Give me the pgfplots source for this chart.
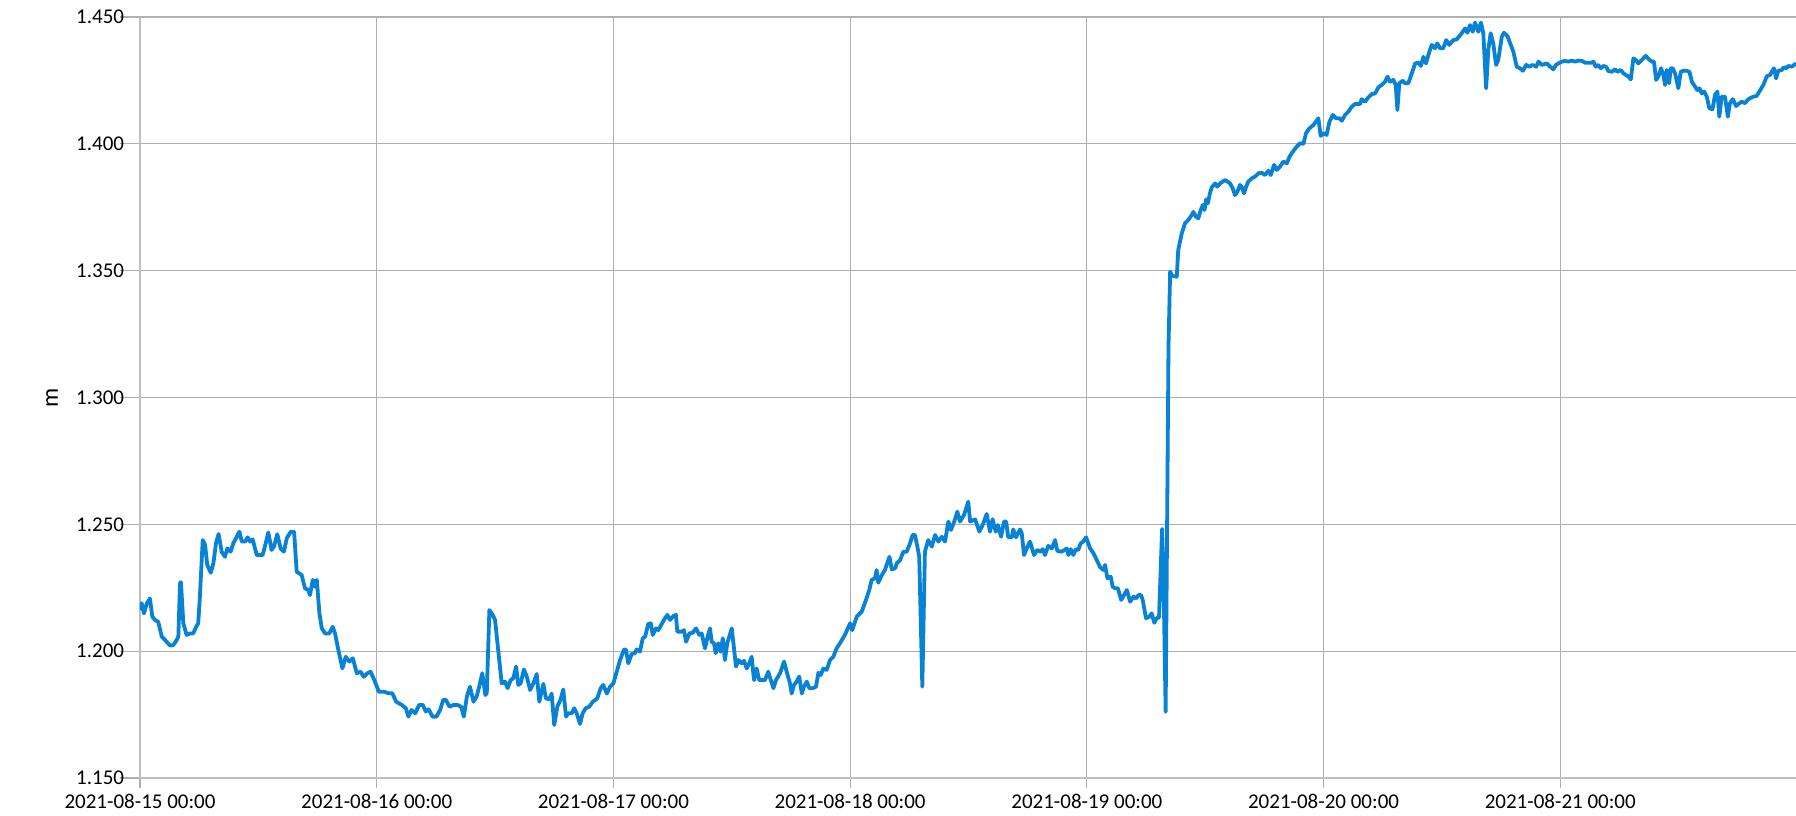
\documentclass[border=0pt]{standalone}
\usepackage{fontspec}
\setmainfont{Carlito}
\usepackage{pgfplots}
\pgfplotsset{compat=1.18}
\definecolor{lineblue}{RGB}{8,130,212}
\definecolor{gridgray}{RGB}{175,175,175}
\begin{document}
\fontsize{10.5}{12.6}\selectfont
\begin{tikzpicture}
\begin{axis}[
  at={(0,0)}, anchor=south west,
  scale only axis, width=828pt, height=380.5pt,
  xmin=0, xmax=6.996, ymin=1.15, ymax=1.45,
  xtick={0,1,2,3,4,5,6},
  xticklabels={2021-08-15 00:00,2021-08-16 00:00,2021-08-17 00:00,2021-08-18 00:00,2021-08-19 00:00,2021-08-20 00:00,2021-08-21 00:00},
  ytick={1.15,1.2,1.25,1.3,1.35,1.4,1.45},
  yticklabel style={/pgf/number format/.cd, fixed, fixed zerofill, precision=3, assume math mode=true},
  tick align=outside,
  xtick style={gridgray, line width=0.6pt, /pgfplots/major tick length=5pt},
  ytick style={gridgray, line width=0.6pt, /pgfplots/major tick length=10pt},
  grid=major,
  major grid style={gridgray, line width=0.6pt},
  axis line style={gridgray!80, line width=0.6pt},
  axis x line*=bottom, axis y line*=left,
  ylabel={m},
  ylabel style={at={([xshift=-44pt]axis description cs:0,0.5)}, anchor=center, font=\fontsize{12}{14}\selectfont},
  clip=true,
]
\addplot[lineblue, line width=1.9pt, line join=round] table {
x y
0.000 1.2162
0.007 1.2189
0.017 1.2149
0.028 1.2186
0.042 1.2208
0.052 1.2136
0.063 1.2123
0.077 1.2116
0.092 1.2057
0.106 1.2044
0.127 1.2022
0.141 1.2024
0.155 1.2044
0.162 1.2057
0.169 1.2268
0.173 1.2272
0.183 1.2110
0.197 1.2064
0.211 1.2070
0.225 1.2070
0.237 1.2096
0.246 1.2110
0.253 1.2215
0.265 1.2438
0.275 1.2419
0.284 1.2340
0.299 1.2309
0.310 1.2346
0.321 1.2425
0.332 1.2462
0.345 1.2392
0.359 1.2372
0.369 1.2405
0.383 1.2392
0.394 1.2425
0.409 1.2451
0.420 1.2471
0.430 1.2432
0.444 1.2432
0.455 1.2449
0.465 1.2432
0.476 1.2441
0.493 1.2379
0.507 1.2379
0.518 1.2379
0.531 1.2425
0.542 1.2468
0.556 1.2399
0.566 1.2412
0.580 1.2461
0.594 1.2405
0.608 1.2392
0.620 1.2445
0.637 1.2471
0.651 1.2471
0.662 1.2313
0.683 1.2300
0.697 1.2248
0.711 1.2241
0.718 1.2221
0.730 1.2281
0.739 1.2254
0.747 1.2281
0.758 1.2149
0.768 1.2090
0.782 1.2070
0.800 1.2070
0.814 1.2096
0.824 1.2070
0.838 1.2005
0.855 1.1932
0.869 1.1978
0.884 1.1959
0.899 1.1972
0.916 1.1913
0.932 1.1919
0.945 1.1899
0.961 1.1913
0.974 1.1919
0.990 1.1886
1.009 1.1840
1.033 1.1840
1.049 1.1834
1.066 1.1834
1.082 1.1801
1.106 1.1788
1.123 1.1775
1.134 1.1742
1.147 1.1768
1.163 1.1755
1.179 1.1788
1.195 1.1788
1.207 1.1762
1.219 1.1771
1.236 1.1742
1.252 1.1742
1.268 1.1768
1.281 1.1808
1.292 1.1808
1.308 1.1781
1.324 1.1788
1.341 1.1788
1.357 1.1781
1.368 1.1742
1.381 1.1821
1.394 1.1860
1.409 1.1801
1.422 1.1821
1.433 1.1860
1.446 1.1913
1.459 1.1827
1.465 1.1834
1.476 1.2162
1.490 1.2143
1.500 1.2123
1.528 1.1873
1.542 1.1880
1.553 1.1854
1.566 1.1886
1.577 1.1893
1.589 1.1939
1.598 1.1867
1.608 1.1873
1.622 1.1928
1.634 1.1900
1.648 1.1847
1.662 1.1873
1.676 1.1910
1.687 1.1801
1.704 1.1871
1.715 1.1814
1.729 1.1810
1.739 1.1833
1.750 1.1709
1.763 1.1781
1.777 1.1810
1.788 1.1849
1.800 1.1742
1.809 1.1755
1.824 1.1755
1.834 1.1775
1.845 1.1755
1.859 1.1713
1.870 1.1755
1.883 1.1775
1.898 1.1781
1.913 1.1801
1.924 1.1808
1.932 1.1814
1.946 1.1854
1.957 1.1867
1.972 1.1833
1.986 1.1860
2.000 1.1873
2.014 1.1919
2.028 1.1965
2.045 1.2007
2.053 1.2005
2.063 1.1952
2.077 1.1989
2.091 1.1992
2.098 1.2007
2.112 1.1998
2.124 1.2051
2.134 1.2057
2.147 1.2107
2.158 1.2110
2.166 1.2064
2.180 1.2090
2.190 1.2083
2.204 1.2107
2.218 1.2130
2.228 1.2143
2.239 1.2123
2.253 1.2138
2.264 1.2143
2.270 1.2077
2.289 1.2077
2.298 1.2083
2.307 1.2037
2.321 1.2070
2.335 1.2073
2.349 1.2090
2.363 1.2064
2.373 1.2070
2.387 1.2011
2.398 1.2057
2.408 1.2090
2.415 1.2037
2.425 1.2031
2.432 1.1992
2.443 1.2031
2.453 1.1998
2.462 1.2051
2.471 1.1965
2.481 1.2031
2.500 1.2090
2.518 1.1939
2.528 1.1965
2.542 1.1952
2.552 1.1962
2.563 1.1932
2.574 1.1952
2.584 1.1978
2.594 1.1886
2.605 1.1932
2.616 1.1886
2.627 1.1886
2.640 1.1886
2.654 1.1919
2.665 1.1886
2.676 1.1854
2.687 1.1886
2.704 1.1913
2.721 1.1959
2.732 1.1919
2.746 1.1873
2.753 1.1833
2.763 1.1867
2.774 1.1880
2.785 1.1900
2.796 1.1833
2.805 1.1860
2.817 1.1880
2.828 1.1854
2.842 1.1854
2.856 1.1860
2.866 1.1915
2.876 1.1906
2.887 1.1932
2.901 1.1926
2.915 1.1965
2.929 1.1978
2.943 1.2011
2.957 1.2031
2.978 1.2064
3.000 1.2110
3.009 1.2083
3.028 1.2136
3.049 1.2156
3.067 1.2202
3.081 1.2241
3.091 1.2281
3.105 1.2287
3.112 1.2320
3.119 1.2270
3.134 1.2300
3.147 1.2320
3.166 1.2372
3.176 1.2322
3.190 1.2327
3.197 1.2346
3.211 1.2359
3.225 1.2392
3.239 1.2392
3.253 1.2425
3.264 1.2458
3.274 1.2458
3.284 1.2412
3.292 1.2372
3.305 1.1860
3.316 1.2392
3.330 1.2438
3.345 1.2412
3.359 1.2458
3.373 1.2432
3.387 1.2451
3.401 1.2432
3.415 1.2511
3.426 1.2478
3.440 1.2511
3.453 1.2550
3.464 1.2511
3.481 1.2537
3.499 1.2589
3.507 1.2511
3.528 1.2520
3.546 1.2471
3.560 1.2497
3.577 1.2541
3.591 1.2471
3.602 1.2520
3.615 1.2471
3.624 1.2497
3.638 1.2451
3.650 1.2511
3.659 1.2511
3.668 1.2449
3.683 1.2449
3.689 1.2480
3.701 1.2449
3.718 1.2480
3.725 1.2465
3.735 1.2379
3.746 1.2405
3.760 1.2432
3.777 1.2379
3.791 1.2399
3.805 1.2392
3.814 1.2402
3.823 1.2379
3.837 1.2415
3.852 1.2405
3.866 1.2438
3.875 1.2396
3.890 1.2392
3.901 1.2396
3.915 1.2405
3.922 1.2379
3.932 1.2402
3.943 1.2379
3.953 1.2402
3.964 1.2399
3.974 1.2425
3.985 1.2432
3.997 1.2449
4.014 1.2405
4.028 1.2386
4.042 1.2359
4.056 1.2331
4.070 1.2320
4.077 1.2340
4.087 1.2287
4.101 1.2294
4.109 1.2254
4.119 1.2248
4.131 1.2248
4.145 1.2202
4.157 1.2221
4.169 1.2241
4.183 1.2195
4.197 1.2215
4.208 1.2208
4.218 1.2221
4.229 1.2221
4.236 1.2202
4.250 1.2130
4.264 1.2136
4.274 1.2149
4.285 1.2112
4.295 1.2130
4.305 1.2133
4.318 1.2482
4.324 1.2281
4.333 1.1761
4.345 1.3200
4.352 1.3496
4.360 1.3480
4.380 1.3476
4.386 1.3581
4.401 1.3647
4.415 1.3687
4.429 1.3700
4.443 1.3719
4.450 1.3732
4.461 1.3713
4.471 1.3706
4.481 1.3739
4.490 1.3759
4.497 1.3739
4.504 1.3781
4.511 1.3765
4.520 1.3805
4.528 1.3829
4.542 1.3844
4.551 1.3831
4.563 1.3844
4.574 1.3851
4.584 1.3857
4.595 1.3851
4.605 1.3844
4.616 1.3825
4.626 1.3798
4.636 1.3811
4.647 1.3838
4.654 1.3831
4.664 1.3805
4.673 1.3831
4.682 1.3851
4.697 1.3864
4.711 1.3871
4.725 1.3884
4.739 1.3886
4.753 1.3877
4.767 1.3894
4.777 1.3877
4.791 1.3917
4.802 1.3897
4.816 1.3910
4.830 1.3930
4.845 1.3923
4.856 1.3949
4.870 1.3969
4.887 1.3989
4.901 1.4002
4.915 1.4000
4.926 1.4042
4.940 1.4061
4.957 1.4074
4.978 1.4101
4.988 1.4031
4.999 1.4042
5.013 1.4035
5.025 1.4087
5.039 1.4114
5.053 1.4101
5.067 1.4101
5.077 1.4091
5.091 1.4114
5.105 1.4127
5.119 1.4146
5.133 1.4157
5.154 1.4157
5.161 1.4176
5.175 1.4166
5.189 1.4183
5.204 1.4196
5.218 1.4199
5.232 1.4223
5.246 1.4232
5.260 1.4245
5.270 1.4265
5.281 1.4245
5.295 1.4252
5.305 1.4232
5.312 1.4133
5.320 1.4239
5.335 1.4249
5.344 1.4239
5.358 1.4239
5.373 1.4278
5.387 1.4317
5.401 1.4320
5.411 1.4307
5.422 1.4343
5.433 1.4317
5.445 1.4357
5.457 1.4390
5.471 1.4377
5.481 1.4396
5.492 1.4377
5.506 1.4377
5.518 1.4409
5.531 1.4390
5.548 1.4409
5.563 1.4412
5.584 1.4436
5.598 1.4455
5.608 1.4438
5.619 1.4468
5.630 1.4442
5.640 1.4478
5.654 1.4442
5.665 1.4478
5.675 1.4436
5.687 1.4219
5.696 1.4370
5.706 1.4436
5.717 1.4396
5.729 1.4311
5.738 1.4330
5.753 1.4422
5.762 1.4438
5.777 1.4425
5.791 1.4390
5.802 1.4363
5.816 1.4304
5.830 1.4298
5.842 1.4288
5.856 1.4311
5.869 1.4304
5.884 1.4311
5.898 1.4304
5.908 1.4324
5.922 1.4311
5.943 1.4317
5.957 1.4304
5.971 1.4294
5.982 1.4311
5.992 1.4317
6.006 1.4324
6.020 1.4327
6.034 1.4324
6.049 1.4328
6.063 1.4324
6.077 1.4328
6.091 1.4327
6.105 1.4320
6.119 1.4320
6.133 1.4320
6.140 1.4324
6.150 1.4304
6.161 1.4311
6.171 1.4298
6.182 1.4307
6.194 1.4304
6.203 1.4287
6.218 1.4284
6.232 1.4294
6.241 1.4284
6.256 1.4291
6.267 1.4278
6.278 1.4271
6.288 1.4265
6.298 1.4254
6.309 1.4337
6.320 1.4330
6.330 1.4317
6.344 1.4330
6.361 1.4347
6.375 1.4333
6.387 1.4324
6.396 1.4324
6.405 1.4252
6.415 1.4267
6.426 1.4298
6.436 1.4271
6.443 1.4232
6.450 1.4291
6.460 1.4239
6.467 1.4298
6.475 1.4298
6.485 1.4278
6.499 1.4219
6.509 1.4284
6.520 1.4288
6.534 1.4288
6.546 1.4284
6.556 1.4245
6.570 1.4225
6.579 1.4212
6.588 1.4219
6.598 1.4199
6.608 1.4206
6.619 1.4186
6.630 1.4140
6.643 1.4136
6.654 1.4193
6.664 1.4206
6.672 1.4107
6.682 1.4186
6.696 1.4186
6.708 1.4107
6.717 1.4160
6.729 1.4176
6.743 1.4149
6.757 1.4160
6.767 1.4166
6.781 1.4160
6.791 1.4173
6.802 1.4180
6.816 1.4186
6.830 1.4189
6.841 1.4206
6.858 1.4232
6.873 1.4267
6.886 1.4271
6.898 1.4291
6.903 1.4298
6.912 1.4258
6.921 1.4288
6.936 1.4291
6.945 1.4302
6.955 1.4298
6.964 1.4307
6.978 1.4304
6.996 1.4317
};
\end{axis}
\pgfresetboundingbox
\path[use as bounding box] (-70pt,-18.5pt) rectangle (828pt,389pt);
\end{tikzpicture}
\end{document}
